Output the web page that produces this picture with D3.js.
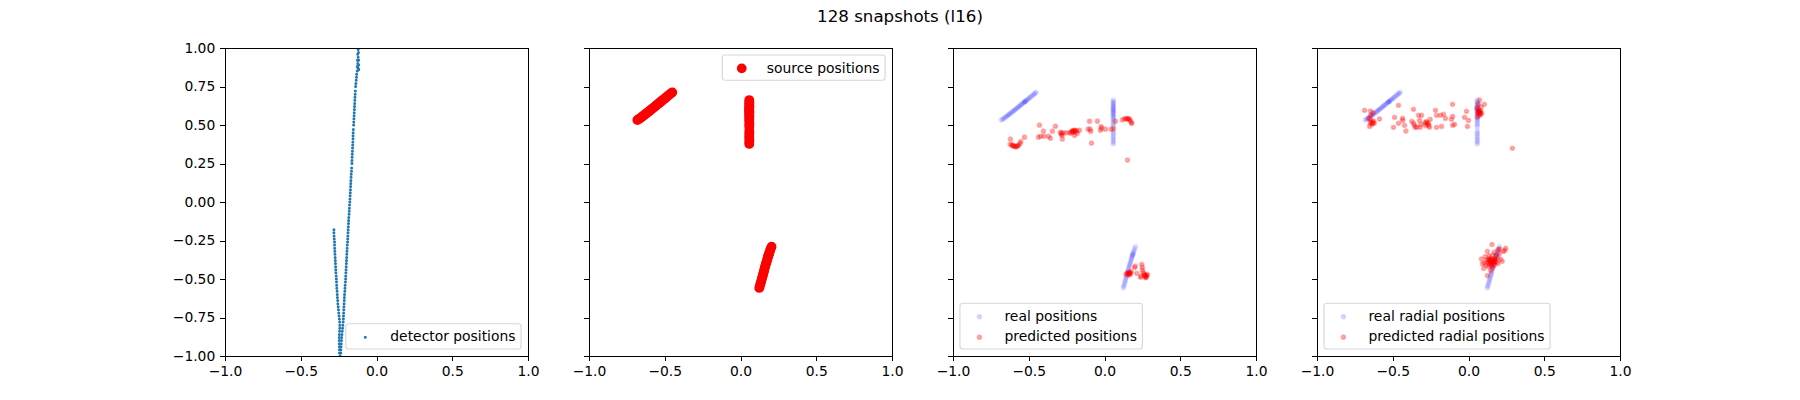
<!DOCTYPE html>
<html>
<head>
<meta charset="utf-8">
<script src="https://d3js.org/d3.v7.min.js"></script>
<style>
  html, body { margin: 0; padding: 0; background: #fff; }
  svg { display: block; }
  text { font-family: "DejaVu Sans", sans-serif; fill: #000; }
</style>
</head>
<body>
<svg id="chart" width="1800" height="400"></svg>
<script>
var xTicks = [-1, -0.5, 0, 0.5, 1];
var yTicks = [-1, -0.75, -0.5, -0.25, 0, 0.25, 0.5, 0.75, 1];

// detector goes down the left branch, then back up to the top
var detector = [
  [-0.281,-0.18],[-0.281,-0.20],[-0.280,-0.22],[-0.279,-0.24],[-0.277,-0.26],[-0.277,-0.28],[-0.276,-0.30],
  [-0.275,-0.32],[-0.274,-0.34],[-0.273,-0.36],[-0.272,-0.38],[-0.271,-0.40],[-0.270,-0.42],[-0.269,-0.44],
  [-0.268,-0.46],[-0.266,-0.48],[-0.265,-0.50],[-0.264,-0.52],[-0.263,-0.54],[-0.262,-0.56],[-0.260,-0.58],
  [-0.259,-0.60],[-0.258,-0.62],[-0.256,-0.64],[-0.255,-0.66],[-0.253,-0.68],[-0.251,-0.70],[-0.249,-0.72],
  [-0.247,-0.74],[-0.245,-0.76],[-0.243,-0.78],[-0.242,-0.80],[-0.243,-0.82],[-0.244,-0.84],[-0.245,-0.86],
  [-0.246,-0.88],[-0.246,-0.90],[-0.246,-0.92],[-0.245,-0.94],[-0.245,-0.96],[-0.244,-0.98],[-0.240,-1.00],
  [-0.236,-0.98],[-0.235,-0.96],[-0.234,-0.94],[-0.233,-0.92],[-0.231,-0.90],[-0.230,-0.88],[-0.228,-0.86],
  [-0.226,-0.84],[-0.224,-0.82],[-0.222,-0.80],[-0.220,-0.78],[-0.219,-0.76],[-0.218,-0.74],[-0.217,-0.72],
  [-0.216,-0.70],[-0.215,-0.68],[-0.214,-0.66],[-0.213,-0.64],[-0.212,-0.62],[-0.211,-0.60],[-0.209,-0.58],
  [-0.208,-0.56],[-0.207,-0.54],[-0.205,-0.52],[-0.204,-0.50],[-0.203,-0.48],[-0.202,-0.46],[-0.201,-0.44],
  [-0.200,-0.42],[-0.199,-0.40],[-0.198,-0.38],[-0.197,-0.36],[-0.196,-0.34],[-0.195,-0.32],[-0.194,-0.30],
  [-0.193,-0.28],[-0.191,-0.26],[-0.190,-0.24],[-0.189,-0.22],[-0.188,-0.20],[-0.187,-0.18],[-0.186,-0.16],
  [-0.185,-0.14],[-0.184,-0.12],[-0.183,-0.10],[-0.181,-0.08],[-0.180,-0.06],[-0.179,-0.04],[-0.178,-0.02],
  [-0.176,0.00],[-0.175,0.02],[-0.174,0.04],[-0.173,0.06],[-0.172,0.08],[-0.171,0.10],[-0.170,0.12],
  [-0.169,0.14],[-0.168,0.16],[-0.167,0.18],[-0.165,0.20],[-0.164,0.22],[-0.162,0.25],[-0.162,0.27],
  [-0.161,0.29],[-0.160,0.31],[-0.159,0.33],[-0.158,0.35],[-0.157,0.37],[-0.156,0.39],[-0.155,0.41],
  [-0.155,0.43],[-0.154,0.45],[-0.153,0.47],[-0.151,0.50],[-0.150,0.52],[-0.149,0.54],[-0.148,0.56],
  [-0.147,0.58],[-0.146,0.60],[-0.145,0.62],[-0.144,0.64],[-0.143,0.66],[-0.142,0.68],[-0.141,0.70],
  [-0.140,0.72],[-0.138,0.75],[-0.136,0.77],[-0.134,0.79],[-0.132,0.81],[-0.131,0.83],[-0.127,0.85],
  [-0.117,0.86],[-0.122,0.87],[-0.127,0.88],[-0.118,0.89],[-0.123,0.90],[-0.126,0.92],[-0.118,0.92],
  [-0.121,0.94],[-0.124,0.96],[-0.119,0.97],[-0.121,0.99]
];

var sources = [
  [-0.681,0.532],[-0.674,0.537],[-0.666,0.542],[-0.660,0.546],[-0.652,0.552],[-0.645,0.557],[-0.640,0.561],
  [-0.633,0.566],[-0.628,0.571],[-0.621,0.575],[-0.615,0.581],[-0.608,0.585],[-0.602,0.591],[-0.595,0.596],
  [-0.590,0.600],[-0.583,0.606],[-0.577,0.610],[-0.570,0.616],[-0.564,0.620],[-0.558,0.626],[-0.552,0.630],
  [-0.546,0.636],[-0.540,0.640],[-0.533,0.646],[-0.529,0.649],[-0.526,0.651],[-0.522,0.654],[-0.519,0.657],
  [-0.513,0.662],[-0.506,0.667],[-0.499,0.672],[-0.493,0.678],[-0.486,0.684],[-0.478,0.690],[-0.470,0.696],
  [-0.464,0.702],[-0.457,0.707],[-0.450,0.712],
  [0.058,0.662],[0.058,0.652],[0.059,0.644],[0.058,0.636],[0.058,0.628],[0.059,0.620],[0.058,0.612],
  [0.057,0.605],[0.058,0.598],[0.058,0.592],[0.059,0.585],[0.058,0.578],[0.058,0.571],[0.058,0.563],
  [0.059,0.555],[0.058,0.546],[0.058,0.536],[0.058,0.525],[0.059,0.512],[0.058,0.500],[0.058,0.488],
  [0.058,0.463],[0.059,0.450],[0.058,0.438],[0.058,0.425],[0.058,0.412],[0.059,0.400],[0.058,0.388],[0.058,0.377],
  [0.124,-0.558],[0.127,-0.547],[0.130,-0.536],[0.134,-0.524],[0.137,-0.513],[0.140,-0.502],[0.143,-0.491],
  [0.146,-0.480],[0.149,-0.470],[0.152,-0.459],[0.155,-0.449],[0.157,-0.439],[0.160,-0.428],[0.163,-0.418],
  [0.166,-0.408],[0.169,-0.398],[0.172,-0.388],[0.175,-0.378],[0.178,-0.368],[0.181,-0.358],[0.183,-0.350],
  [0.185,-0.345],[0.187,-0.340],[0.189,-0.334],[0.192,-0.325],[0.195,-0.315],[0.199,-0.303],[0.205,-0.290]
];

var predicted = [
  [-0.621,0.408],[-0.623,0.375],[-0.612,0.367],[-0.608,0.371],[-0.601,0.362],[-0.597,0.365],[-0.590,0.360],
  [-0.583,0.358],[-0.579,0.362],[-0.572,0.365],[-0.568,0.369],[-0.557,0.380],[-0.553,0.393],[-0.528,0.421],
  [-0.429,0.499],[-0.403,0.460],[-0.436,0.421],[-0.421,0.427],[-0.399,0.427],[-0.370,0.427],[-0.357,0.414],
  [-0.344,0.460],[-0.324,0.492],[-0.291,0.453],[-0.286,0.440],[-0.280,0.432],[-0.278,0.408],[-0.284,0.447],
  [-0.271,0.449],[-0.253,0.449],[-0.231,0.451],[-0.223,0.447],[-0.216,0.458],[-0.209,0.464],[-0.205,0.453],
  [-0.196,0.458],[-0.194,0.468],[-0.183,0.462],[-0.198,0.432],[-0.179,0.445],[-0.165,0.466],[-0.212,0.460],
  [-0.202,0.462],[-0.190,0.460],[-0.099,0.525],[-0.047,0.525],[-0.108,0.473],[-0.095,0.473],[-0.091,0.458],
  [-0.086,0.382],[-0.022,0.490],[-0.027,0.466],[-0.020,0.479],[0.006,0.473],[0.044,0.473],[0.059,0.475],
  [0.072,0.525],[0.118,0.533],[0.131,0.540],[0.142,0.542],[0.147,0.538],[0.156,0.542],[0.160,0.540],
  [0.165,0.535],[0.171,0.527],[0.178,0.516],[0.180,0.509],[0.152,0.272],
  [0.142,-0.470],[0.151,-0.459],[0.155,-0.465],[0.158,-0.474],[0.164,-0.457],[0.169,-0.470],[0.173,-0.461],
  [0.175,-0.452],[0.160,-0.466],[0.166,-0.463],[0.202,-0.416],[0.199,-0.426],[0.213,-0.463],[0.237,-0.489],
  [0.241,-0.481],[0.246,-0.405],[0.250,-0.424],[0.250,-0.442],[0.257,-0.457],[0.261,-0.470],[0.268,-0.474],
  [0.268,-0.491],[0.274,-0.485],[0.279,-0.478],[0.283,-0.470],[0.264,-0.478],[0.272,-0.476],[0.276,-0.490]
];

var predictedRadial = [
  [-0.686,0.595],[-0.648,0.591],[-0.631,0.580],[-0.644,0.565],[-0.659,0.543],[-0.648,0.537],[-0.587,0.539],
  [-0.653,0.491],[-0.644,0.522],[-0.631,0.515],[-0.622,0.511],[-0.637,0.504],[-0.648,0.511],[-0.626,0.526],
  [-0.635,0.517],[-0.462,0.628],[-0.488,0.550],[-0.495,0.485],[-0.462,0.511],[-0.435,0.543],[-0.435,0.530],
  [-0.422,0.498],[-0.413,0.461],[-0.363,0.602],[-0.374,0.524],[-0.363,0.511],[-0.356,0.498],[-0.352,0.485],
  [-0.330,0.563],[-0.310,0.563],[-0.323,0.530],[-0.319,0.485],[-0.314,0.504],[-0.341,0.485],[-0.284,0.496],
  [-0.270,0.504],[-0.279,0.522],[-0.264,0.511],[-0.253,0.537],[-0.257,0.485],[-0.275,0.517],[-0.262,0.496],
  [-0.288,0.513],[-0.218,0.595],[-0.211,0.563],[-0.211,0.485],[-0.185,0.563],[-0.165,0.569],[-0.178,0.491],
  [-0.152,0.543],[-0.112,0.537],[-0.105,0.556],[-0.105,0.634],[-0.105,0.498],[-0.092,0.504],[-0.026,0.550],
  [-0.013,0.589],[0.000,0.530],[-0.007,0.491],[0.073,0.662],[0.066,0.634],[0.105,0.634],[0.084,0.617],
  [0.055,0.608],[0.068,0.604],[0.081,0.591],[0.066,0.591],[0.061,0.578],[0.077,0.582],[0.088,0.574],
  [0.073,0.576],[0.077,0.569],[0.073,0.561],[0.059,0.552],[0.070,0.586],[0.072,0.585],[0.075,0.580],[0.290,0.349],
  [0.155,-0.276],[0.245,-0.300],[0.230,-0.320],[0.195,-0.310],[0.170,-0.325],[0.125,-0.320],[0.205,-0.335],
  [0.110,-0.355],[0.135,-0.350],[0.160,-0.345],[0.180,-0.350],[0.195,-0.360],[0.120,-0.375],[0.135,-0.370],
  [0.145,-0.365],[0.150,-0.378],[0.155,-0.372],[0.162,-0.380],[0.170,-0.370],[0.178,-0.382],[0.140,-0.385],
  [0.148,-0.392],[0.156,-0.388],[0.164,-0.395],[0.172,-0.390],[0.142,-0.398],[0.152,-0.402],[0.160,-0.405],
  [0.105,-0.395],[0.195,-0.400],[0.130,-0.420],[0.160,-0.425],[0.125,-0.478],[0.145,-0.445],
  [0.085,-0.370],[0.092,-0.402],[0.100,-0.432],[0.212,-0.372],[0.222,-0.385],[0.240,-0.315],[0.126,-0.392],
  [0.134,-0.378],[0.143,-0.376],[0.152,-0.388],[0.168,-0.382],[0.176,-0.372],[0.186,-0.392],[0.138,-0.408],
  [0.150,-0.415],[0.170,-0.410],[0.115,-0.410],[0.205,-0.305]
];

var title = "128 snapshots (l16)";

var svg = d3.select("#chart");
var panelW = 303, panelH = 308, panelStep = 363.91, left0 = 225, top0 = 48;
var fontSize = 13.89;

svg.append("text").attr("x", 900).attr("y", 21.5).attr("text-anchor", "middle")
  .style("font-size", "16.67px").text(title);

var fmtX = function(d) { return d3.format(".1f")(d).replace("-", "\u2212"); };
var fmtY = function(d) { return d3.format(".2f")(d).replace("-", "\u2212"); };

var drawPoints = function(g, x, y, data, s) {
  g.append("g").selectAll("circle").data(data).enter().append("circle")
    .attr("cx", function(d) { return x(d[0]); })
    .attr("cy", function(d) { return y(d[1]); })
    .attr("r", s.r)
    .attr("fill", s.color).attr("fill-opacity", s.alpha)
    .attr("stroke", s.color).attr("stroke-opacity", s.alpha).attr("stroke-width", s.sw);
};

// legend box the way matplotlib lays it out, width comes from the text
var drawLegend = function(g, loc, rows) {
  var pad = 0.5 * fontSize, rowH = 20.5, h = 25.3 + (rows.length - 1) * rowH;
  var lg = g.append("g");
  var box = lg.append("rect");
  var w = 0;
  rows.forEach(function(r, i) {
    var t = lg.append("text").attr("x", 44.5).attr("y", 17.6 + i * rowH)
      .style("font-size", fontSize + "px").text(r.label);
    w = Math.max(w, t.node().getComputedTextLength());
    var st = r.legendStyle || r.style;
    lg.append("circle").attr("cx", 19.45).attr("cy", 13.4 + i * rowH).attr("r", st.r)
      .attr("fill", st.color).attr("fill-opacity", st.alpha)
      .attr("stroke", st.color).attr("stroke-opacity", st.alpha).attr("stroke-width", st.sw);
  });
  w = w + 44.5 + 5.56;
  box.attr("x", 0).attr("y", 0).attr("width", w).attr("height", h).attr("rx", 2.8).attr("ry", 2.8)
    .attr("fill", "#fff").attr("fill-opacity", 0.8)
    .attr("stroke", "#ccc").attr("stroke-opacity", 0.8).attr("stroke-width", 1.11);
  var lx = loc.indexOf("right") >= 0 ? panelW - pad - w : pad;
  var ly = loc.indexOf("lower") >= 0 ? panelH - pad - h : pad;
  lg.attr("transform", "translate(" + lx + "," + ly + ")");
};

var dotDetector = { color: "#1f77b4", alpha: 1, r: 0.7, sw: 1.6 };
var dotSource = { color: "#ff0000", alpha: 1, r: 3.9, sw: 2 };
var dotReal = { color: "#0000ff", alpha: 0.09, r: 1.9, sw: 1.8 };
var dotRealLegend = { color: "#0000ff", alpha: 0.12, r: 1.9, sw: 1.8 };
var dotPred = { color: "#ff0000", alpha: 0.27, r: 1.9, sw: 1.8 };

var panels = [
  { layers: [[detector, dotDetector]], loc: "lower right",
    rows: [{ label: "detector positions", style: dotDetector }] },
  { layers: [[sources, dotSource]], loc: "upper right",
    rows: [{ label: "source positions", style: dotSource }] },
  { layers: [[sources, dotReal], [predicted, dotPred]], loc: "lower left",
    rows: [{ label: "real positions", style: dotReal, legendStyle: dotRealLegend }, { label: "predicted positions", style: dotPred }] },
  { layers: [[sources, dotReal], [predictedRadial, dotPred]], loc: "lower left",
    rows: [{ label: "real radial positions", style: dotReal, legendStyle: dotRealLegend }, { label: "predicted radial positions", style: dotPred }] }
];

svg.append("defs").append("clipPath").attr("id", "plotclip").append("rect")
  .attr("x", 0).attr("y", 0).attr("width", panelW).attr("height", panelH);

panels.forEach(function(p, i) {
  var g = svg.append("g").attr("transform", "translate(" + Math.round(left0 + i * panelStep) + "," + top0 + ")");
  var x = d3.scaleLinear().domain([-1, 1]).range([0, panelW]);
  var y = d3.scaleLinear().domain([-1, 1]).range([panelH, 0]);

  var plot = g.append("g").attr("clip-path", "url(#plotclip)");
  p.layers.forEach(function(l) { drawPoints(plot, x, y, l[0], l[1]); });

  var xAxis = d3.axisBottom(x).tickValues(xTicks).tickFormat(fmtX).tickSize(4.86).tickPadding(4.86).tickSizeOuter(0);
  var yAxis = d3.axisLeft(y).tickValues(yTicks).tickFormat(i == 0 ? fmtY : "").tickSize(4.86).tickPadding(4.86).tickSizeOuter(0);
  var gx = g.append("g").attr("transform", "translate(0," + panelH + ")").call(xAxis);
  var gy = g.append("g").call(yAxis);
  [gx, gy].forEach(function(a) {
    a.selectAll("text").style("font-size", fontSize + "px").style("font-family", '"DejaVu Sans", sans-serif').attr("fill", "#000");
    a.selectAll("line").attr("stroke", "#000").attr("stroke-width", 1).attr("shape-rendering", "crispEdges");
    a.select(".domain").remove();
  });

  g.append("rect").attr("x", 0.5).attr("y", 0.5).attr("width", panelW).attr("height", panelH)
    .attr("fill", "none").attr("stroke", "#000").attr("stroke-width", 1).attr("shape-rendering", "crispEdges");

  drawLegend(g, p.loc, p.rows);
});
</script>
</body>
</html>
